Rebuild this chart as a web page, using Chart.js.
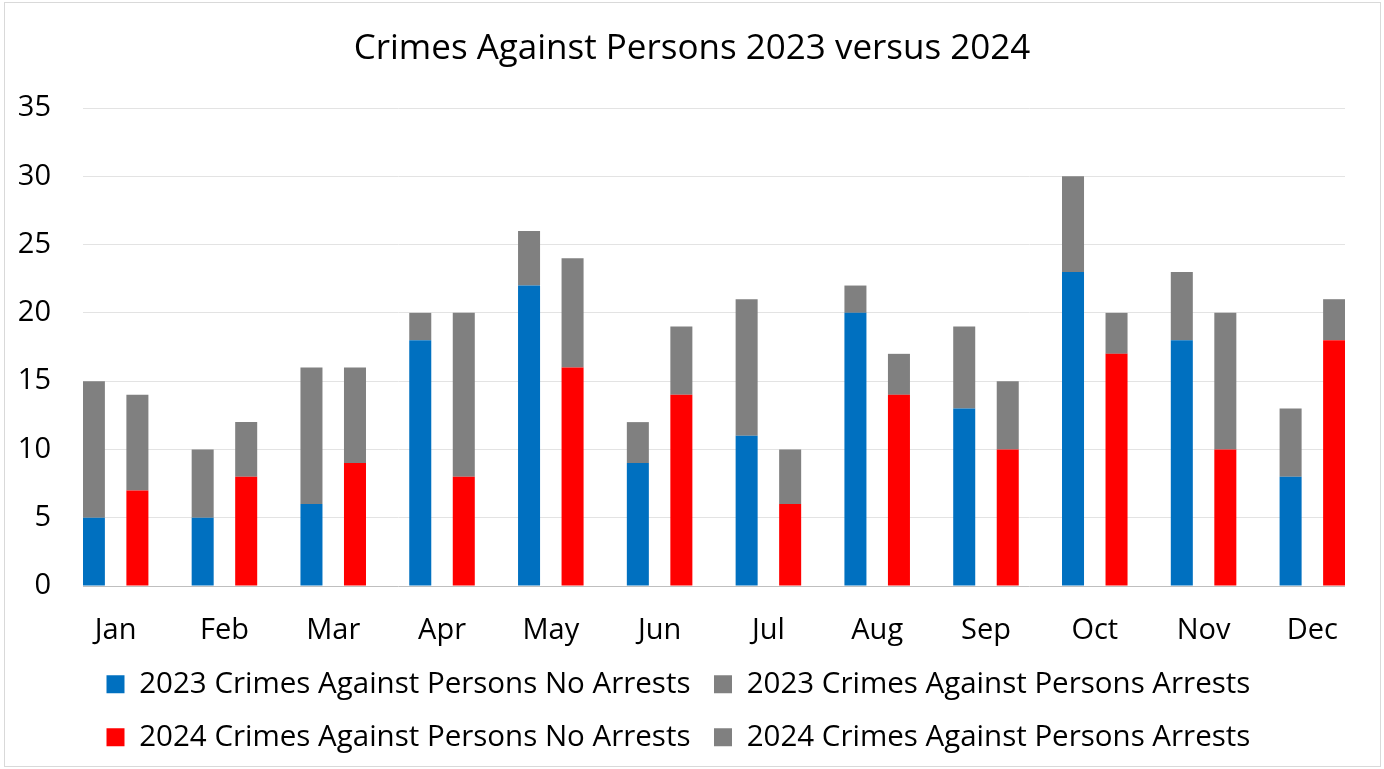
<!DOCTYPE html>
<html>
<head>
<meta charset="utf-8">
<title>Crimes Against Persons 2023 versus 2024</title>
<script src="https://cdn.jsdelivr.net/npm/chart.js@4.4.1/dist/chart.umd.min.js"></script>
<style>
    html, body { margin: 0; padding: 0; background: #fff; overflow: hidden; }
    #wrap { width: 1384px; height: 769px; }
</style>
</head>
<body>
<div id="wrap"><canvas id="crimesChart"></canvas></div>
<script>
/* ============================
   DATOS
============================ */
const MONTHS = ["Jan","Feb","Mar","Apr","May","Jun",
                "Jul","Aug","Sep","Oct","Nov","Dec"];

const noArrests2023 = [5, 5, 6, 18, 22, 9, 11, 20, 13, 23, 18, 8];
const arrests2023   = [10, 5, 10, 2, 4, 3, 10, 2, 6, 7, 5, 5];
const noArrests2024 = [7, 8, 9, 8, 16, 14, 6, 14, 10, 17, 10, 18];
const arrests2024   = [7, 4, 7, 12, 8, 5, 4, 3, 5, 3, 10, 3];

const Y_TICKS = [0, 5, 10, 15, 20, 25, 30, 35];

/* ============================
   HELPERS
============================ */
const FONT = "'Open Sans', sans-serif";

function puntos(arr) {
    return arr.map((v, i) => ({ x: i, y: v }));
}

function serie(label, data, color, stack) {
    return {
        label,
        data: puntos(data),
        backgroundColor: color,
        borderWidth: 0,
        stack,
        categoryPercentage: 0.8,
        barPercentage: 0.506
    };
}

// fondo blanco + marco gris del gráfico
const marco = {
    id: "marco",
    beforeDraw(chart) {
        const { ctx, width, height } = chart;
        ctx.save();
        ctx.fillStyle = "#fff";
        ctx.fillRect(0, 0, width, height);
        ctx.strokeStyle = "#d9d9d9";
        ctx.lineWidth = 1;
        ctx.strokeRect(4.5, 2.5, width - 8, height - 5);
        ctx.restore();
    }
};

/* ============================
   RENDER CHART
============================ */
Chart.defaults.font.family = FONT;
Chart.defaults.color = "#000";

new Chart(document.getElementById("crimesChart"), {
    type: "bar",
    data: {
        datasets: [
            serie("2023 Crimes Against Persons No Arrests", noArrests2023, "#0070C0", "2023"),
            serie("2023 Crimes Against Persons Arrests", arrests2023, "#808080", "2023"),
            serie("2024 Crimes Against Persons No Arrests", noArrests2024, "#FF0000", "2024"),
            serie("2024 Crimes Against Persons Arrests", arrests2024, "#808080", "2024")
        ]
    },
    options: {
        responsive: true,
        maintainAspectRatio: false,
        animation: false,
        layout: { padding: { top: 0, left: 0, right: 0, bottom: 7 } },
        scales: {
            x: {
                type: "linear",
                offset: false,
                min: -0.3,
                max: 11.3,
                grid: { display: false },
                border: { display: false },
                ticks: {
                    stepSize: 1,
                    includeBounds: false,
                    autoSkip: false,
                    maxRotation: 0,
                    padding: 19,
                    font: { size: 29 },
                    callback: v => MONTHS[v] ?? ""
                },
                afterFit(scale) {
                    scale.height = 60;
                    scale.paddingLeft = 0;
                    scale.paddingRight = 39;
                }
            },
            y: {
                stacked: true,
                min: 0,
                max: 35,
                grid: {
                    drawTicks: false,
                    color: c => (c.tick && c.tick.value === 0 ? "#bfbfbf" : "#e3e3e3")
                },
                border: { display: false },
                afterBuildTicks(scale) {
                    scale.ticks = Y_TICKS.map(v => ({ value: v }));
                },
                ticks: {
                    padding: 32,
                    font: { size: 29 }
                },
                afterFit(scale) {
                    scale.width = 83;
                }
            }
        },
        plugins: {
            title: {
                display: true,
                text: "Crimes Against Persons 2023 versus 2024",
                font: { size: 35, weight: "normal" },
                color: "#000",
                padding: { top: 28, bottom: 38 }
            },
            legend: {
                position: "bottom",
                align: "start",
                fullSize: false,
                labels: {
                    boxWidth: 18,
                    boxHeight: 18,
                    padding: 23.5,
                    font: { size: 29.5 },
                    color: "#000"
                }
            },
            tooltip: { enabled: false }
        }
    },
    plugins: [marco]
});
</script>
</body>
</html>
